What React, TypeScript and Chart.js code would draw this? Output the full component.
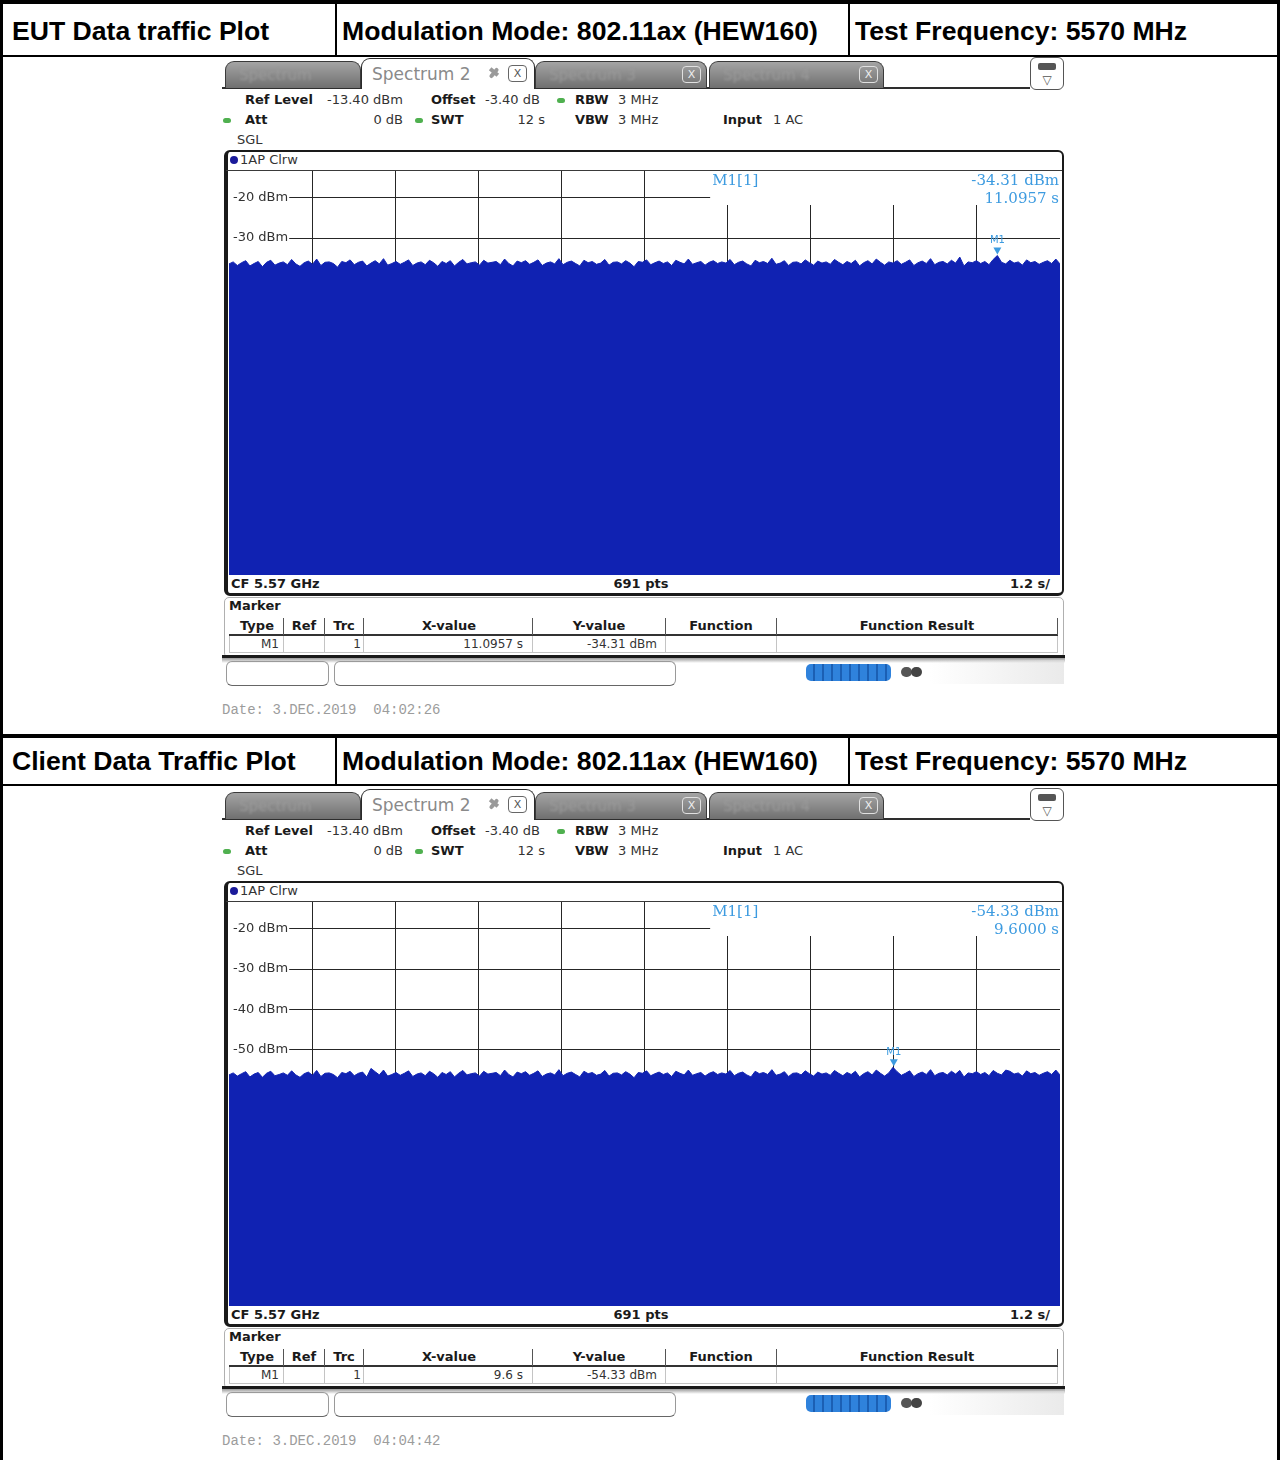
import React, { useEffect, useRef } from 'react';
import { Chart, registerables } from 'chart.js';

Chart.register(...registerables);

// ---------- data ----------
const SWEEP_TIME_S = 12;
const REF_LEVEL_DBM = -13.4;
const RANGE_DB = 100;
const X_GRID_S = [1.2, 2.4, 3.6, 4.8, 6.0, 7.2, 8.4, 9.6, 10.8];
const Y_GRID_DBM = [-20, -30, -40, -50, -60, -70, -80, -90, -100, -110];

const HEADER_EUT = ['EUT Data traffic Plot', 'Modulation Mode: 802.11ax (HEW160)', 'Test Frequency: 5570 MHz'];
const HEADER_CLIENT = ['Client Data Traffic Plot', 'Modulation Mode: 802.11ax (HEW160)', 'Test Frequency: 5570 MHz'];

const EUT_TRACE_DBM = [
  -36.4, -35.9, -36.8, -36.1, -35.6, -36.9, -36.3, -35.8, -37.1, -36.0, -35.5, -36.7, -36.2, -35.9, -36.6, -35.3, -36.4, -37.0, -36.1, -35.7,
  -36.5, -35.2, -36.8, -36.0, -35.9, -36.3, -37.2, -35.8, -36.1, -35.4, -36.6, -36.0, -35.7, -36.9, -36.2, -35.6, -36.4, -35.1, -36.7, -36.3,
  -35.8, -36.5, -36.0, -35.4, -36.8, -36.2, -35.9, -36.6, -35.5, -36.1, -37.0, -35.8, -36.3, -35.6, -36.9, -36.0, -35.3, -36.4, -36.1, -35.9,
  -36.7, -35.5, -36.2, -36.0, -35.8, -36.6, -35.2, -36.3, -36.9, -35.7, -36.1, -35.6, -36.5, -36.0, -35.4, -36.8, -36.2, -35.9, -36.4, -35.1,
  -36.6, -36.0, -35.7, -36.3, -36.9, -35.5, -36.1, -35.8, -36.5, -36.2, -35.3, -36.7, -36.0, -35.9, -36.4, -35.6, -36.2, -37.1, -35.8, -36.0,
  -35.4, -36.6, -36.1, -35.7, -36.3, -35.9, -36.8, -35.5, -36.0, -36.4, -35.2, -36.5, -36.1, -35.8, -36.7, -36.0, -35.6, -36.3, -35.9, -36.2,
  -35.3, -36.6, -36.0, -35.7, -36.4, -36.9, -35.5, -36.1, -35.8, -36.3, -35.0, -36.5, -36.2, -35.6, -36.8, -36.0, -35.9, -36.4, -35.4, -36.1,
  -36.7, -35.7, -36.2, -35.9, -36.5, -35.3, -36.0, -36.6, -35.8, -36.3, -35.5, -36.9, -36.1, -35.6, -36.4, -35.2, -36.0, -36.7, -35.9, -36.2,
  -35.6, -36.5, -36.0, -35.4, -36.8, -36.1, -35.7, -36.3, -35.1, -36.6, -36.0, -35.8, -36.4, -35.5, -36.2, -34.7, -36.9, -35.9, -36.1, -35.6,
  -36.3, -35.8, -36.6, -35.3, -34.31, -36.0, -36.4, -35.5, -36.2, -35.9, -36.7, -35.4, -36.1, -35.8, -36.5, -36.0, -35.6, -36.3, -35.2, -36.4,
];

const CLIENT_TRACE_DBM = [
  -56.2, -55.7, -56.5, -55.9, -55.4, -56.7, -56.0, -55.6, -56.8, -55.8, -55.3, -56.4, -56.1, -55.7, -56.3, -55.2, -56.2, -56.8, -55.9, -55.5,
  -56.3, -55.1, -56.6, -55.8, -55.7, -56.1, -56.9, -55.6, -55.9, -55.3, -56.4, -55.8, -55.5, -56.7, -54.6, -55.4, -56.2, -55.0, -56.5, -56.1,
  -55.6, -56.3, -55.8, -55.2, -56.6, -56.0, -55.7, -56.4, -55.3, -55.9, -56.8, -55.6, -56.1, -55.4, -56.7, -55.8, -55.1, -56.2, -55.9, -55.7,
  -56.5, -55.3, -56.0, -55.8, -55.6, -56.4, -55.0, -56.1, -56.7, -55.5, -55.9, -55.4, -56.3, -55.8, -55.2, -56.6, -56.0, -55.7, -56.2, -54.9,
  -56.4, -55.8, -55.5, -56.1, -56.7, -55.3, -55.9, -55.6, -56.3, -56.0, -55.1, -56.5, -55.8, -55.7, -56.2, -55.4, -56.0, -56.9, -55.6, -55.8,
  -55.2, -56.4, -55.9, -55.5, -56.1, -55.7, -56.6, -55.3, -55.8, -56.2, -55.0, -56.3, -55.9, -55.6, -56.5, -55.8, -55.4, -56.1, -55.7, -56.0,
  -55.1, -56.4, -55.8, -55.5, -56.2, -56.7, -55.3, -55.9, -55.6, -56.1, -54.9, -56.3, -56.0, -55.4, -56.6, -55.8, -55.7, -56.2, -55.2, -55.9,
  -56.5, -55.5, -56.0, -55.7, -56.3, -55.1, -55.8, -56.4, -55.6, -56.1, -55.3, -56.7, -55.9, -55.4, -56.2, -55.0, -55.8, -56.5, -55.7, -54.33,
  -55.4, -56.3, -55.8, -55.2, -56.6, -55.9, -55.5, -56.1, -54.9, -56.4, -55.8, -55.6, -56.2, -55.3, -56.0, -55.1, -56.7, -55.7, -55.9, -55.4,
  -56.1, -55.6, -56.4, -55.1, -55.8, -56.2, -55.0, -55.3, -56.0, -55.7, -56.5, -55.2, -55.9, -55.6, -56.3, -55.8, -55.4, -56.1, -55.0, -56.2,
];

const EUT_MARKER_X_S = 11.0957;
const EUT_MARKER_Y_DBM = -34.31;
const EUT_MARKER_TEXT = ['-34.31 dBm', '11.0957 s'];
const EUT_TABLE_X = '11.0957 s';
const EUT_TABLE_Y = '-34.31 dBm';
const EUT_DATE = 'Date: 3.DEC.2019  04:02:26';

const CLIENT_MARKER_X_S = 9.6;
const CLIENT_MARKER_Y_DBM = -54.33;
const CLIENT_MARKER_TEXT = ['-54.33 dBm', '9.6000 s'];
const CLIENT_TABLE_X = '9.6 s';
const CLIENT_TABLE_Y = '-54.33 dBm';
const CLIENT_DATE = 'Date: 3.DEC.2019  04:04:42';

// ---------- styles ----------
const TRACE_BLUE = '#1022b2';
const MARKER_BLUE = '#3d9be0';
const UI_FONT = '"DejaVu Sans", Verdana, sans-serif';

type TxtProps = {
  x: number; y: number; children: React.ReactNode; size?: number; bold?: boolean;
  color?: string; align?: 'left' | 'right' | 'center'; font?: string; style?: React.CSSProperties;
};

function Txt({ x, y, children, size = 13, bold = false, color = '#1a1a1a', align = 'left', font = UI_FONT, style }: TxtProps) {
  const h = Math.round(size * 1.4);
  const base: React.CSSProperties = {
    position: 'absolute', top: y - h / 2, height: h, lineHeight: h + 'px', fontSize: size,
    fontWeight: bold ? 'bold' : 'normal', color, fontFamily: font, whiteSpace: 'pre',
  };
  if (align === 'left') base.left = x;
  else if (align === 'right') base.right = 1280 - x;
  else { base.left = x - 300; base.width = 600; base.textAlign = 'center'; }
  return <div style={{ ...base, ...style }}>{children}</div>;
}

function Box({ x, y, w, h, style }: { x: number; y: number; w: number; h: number; style?: React.CSSProperties }) {
  return <div style={{ position: 'absolute', left: x, top: y, width: w, height: h, boxSizing: 'border-box', ...style }} />;
}

type PlotProps = {
  trace: number[]; markerX: number; markerY: number; markerText: string[];
  left: number; top: number; width: number; height: number;
};

const zeroFit = (s: any) => {
  s.paddingTop = 0; s.paddingBottom = 0; s.paddingLeft = 0; s.paddingRight = 0;
  if (s.isHorizontal()) s.height = 0; else s.width = 0;
};

function TracePlot({ trace, markerX, markerY, markerText, left, top, width, height }: PlotProps) {
  const ref = useRef<HTMLCanvasElement>(null);
  useEffect(() => {
    if (!ref.current) return;
    const n = trace.length;
    const pts = trace.map((y, i) => ({ x: (i * SWEEP_TIME_S) / (n - 1), y }));
    const markerPlugin = {
      id: 'rsMarker',
      afterDatasetsDraw(chart: any) {
        const { ctx, chartArea: a, scales } = chart;
        const xs = scales.x;
        const ys = scales.y;
        ctx.save();
        const bx = a.left + 0.579 * (a.right - a.left);
        ctx.fillStyle = '#ffffff';
        ctx.fillRect(bx, a.top, a.right - bx, 34);
        ctx.fillStyle = MARKER_BLUE;
        ctx.font = '15px "DejaVu Serif", serif';
        ctx.textBaseline = 'middle';
        ctx.textAlign = 'left';
        ctx.fillText('M1[1]', bx + 2, a.top + 10);
        ctx.textAlign = 'right';
        ctx.fillText(markerText[0], a.right - 1, a.top + 10);
        ctx.fillText(markerText[1], a.right - 1, a.top + 28);
        const mx = xs.getPixelForValue(markerX);
        const my = ys.getPixelForValue(markerY);
        ctx.beginPath();
        ctx.moveTo(mx - 4, my - 8);
        ctx.lineTo(mx + 4, my - 8);
        ctx.lineTo(mx, my - 1);
        ctx.closePath();
        ctx.fill();
        ctx.font = '10px "DejaVu Sans", sans-serif';
        ctx.textAlign = 'center';
        ctx.fillText('M1', mx, my - 15);
        ctx.restore();
      },
    };
    const chart = new Chart(ref.current, {
      type: 'line',
      data: {
        datasets: [{
          data: pts,
          borderColor: TRACE_BLUE,
          backgroundColor: TRACE_BLUE,
          borderWidth: 1,
          pointRadius: 0,
          fill: 'start',
          tension: 0,
        }],
      },
      options: {
        animation: false,
        responsive: false,
        maintainAspectRatio: false,
        events: [],
        layout: { padding: 0, autoPadding: false },
        plugins: { legend: { display: false }, tooltip: { enabled: false } },
        scales: {
          x: {
            type: 'linear', min: 0, max: SWEEP_TIME_S,
            afterBuildTicks: (s: any) => { s.ticks = X_GRID_S.map((v) => ({ value: v })); },
            afterFit: zeroFit,
            grid: { color: '#262626', lineWidth: 1, drawTicks: false },
            border: { display: false },
            ticks: { display: false, padding: 0 },
          },
          y: {
            type: 'linear', min: REF_LEVEL_DBM - RANGE_DB, max: REF_LEVEL_DBM,
            afterBuildTicks: (s: any) => { s.ticks = Y_GRID_DBM.map((v) => ({ value: v })); },
            afterFit: zeroFit,
            grid: { color: '#262626', lineWidth: 1, drawTicks: false },
            border: { display: false },
            ticks: {
              mirror: true, padding: 4, color: '#333333',
              font: { family: 'DejaVu Sans', size: 13 },
              callback: (v: any) => `${v} dBm`,
              showLabelBackdrop: true, backdropColor: '#ffffff',
              backdropPadding: { left: 5, right: 1, top: 0, bottom: 0 },
            },
          },
        },
      } as any,
      plugins: [markerPlugin],
    });
    return () => chart.destroy();
  }, []);
  return <canvas ref={ref} width={width} height={height} style={{ position: 'absolute', left, top, width, height }} />;
}

function CloseBox({ x, y, dark }: { x: number; y: number; dark?: boolean }) {
  return (
    <div style={{
      position: 'absolute', left: x, top: y, width: 19, height: 17, boxSizing: 'border-box',
      border: `1px solid ${dark ? '#666' : '#e0e0e0'}`, borderRadius: 4, fontSize: 11, lineHeight: '15px',
      textAlign: 'center', color: dark ? '#555' : '#eee', fontFamily: UI_FONT,
    }}>X</div>
  );
}

function GreyTab({ x, w, label, closeX }: { x: number; w: number; label: string; closeX: number }) {
  return (
    <>
      <div style={{
        position: 'absolute', left: x, top: 61, width: w, height: 27, boxSizing: 'border-box',
        background: 'linear-gradient(#a4a4a4, #707070)', border: '1px solid #3a3a3a', borderBottom: 'none',
        borderRadius: '9px 9px 0 0',
      }} />
      <Txt x={x + 14} y={75} size={15} color="#9a9a9a" style={{ filter: 'blur(1px)' }}>{label}</Txt>
      {closeX > 0 ? <CloseBox x={closeX} y={66} /> : null}
    </>
  );
}

function Analyzer({ oy, trace, markerX, markerY, markerText, tableX, tableY, date }: {
  oy: number; trace: number[]; markerX: number; markerY: number; markerText: string[]; tableX: string; tableY: string; date: string;
}) {
  const dot = (cx: number, cy: number) => (
    <div style={{ position: 'absolute', left: cx - 4, top: cy - 3, width: 8, height: 5, borderRadius: 3, background: '#4fb04f' }} />
  );
  const hdrSeps = [283, 324, 363, 532, 665, 776];
  const hdrCells: [string, number][] = [
    ['Type', 257], ['Ref', 304], ['Trc', 344], ['X-value', 449], ['Y-value', 599], ['Function', 721], ['Function Result', 917],
  ];
  return (
    <div style={{ position: 'absolute', left: 0, top: oy, width: 1280, height: 730 }}>
      {/* tabs */}
      <Box x={222} y={87} w={808} h={2} style={{ background: '#2e2e2e' }} />
      <GreyTab x={225} w={136} label="Spectrum" closeX={-100} />
      <GreyTab x={535} w={172} label="Spectrum 3" closeX={682} />
      <GreyTab x={709} w={175} label="Spectrum 4" closeX={859} />
      <div style={{
        position: 'absolute', left: 361, top: 58, width: 174, height: 31, boxSizing: 'border-box', background: '#fff',
        border: '1.5px solid #2a2a2a', borderBottom: 'none', borderRadius: '9px 9px 0 0',
      }} />
      <Txt x={372} y={74} size={17} color="#8a8a8a">Spectrum 2</Txt>
      <div style={{ position: 'absolute', left: 492, top: 67, width: 4, height: 12, background: '#9a9a9a', transform: 'rotate(40deg)', borderRadius: 2 }} />
      <div style={{ position: 'absolute', left: 489, top: 70, width: 10, height: 4, background: '#9a9a9a', transform: 'rotate(40deg)' }} />
      <CloseBox x={508} y={65} dark />
      <div style={{
        position: 'absolute', left: 1030, top: 57, width: 34, height: 33, boxSizing: 'border-box', background: '#fff',
        border: '1.5px solid #555', borderRadius: 6,
      }} />
      <Box x={1038} y={63} w={18} h={7} style={{ background: '#555', borderRadius: 2 }} />
      <Txt x={1047} y={80} size={12} align="center" color="#555">▽</Txt>

      {/* settings */}
      <Txt x={245} y={100} bold>Ref Level</Txt>
      <Txt x={327} y={100} color="#333">-13.40 dBm</Txt>
      <Txt x={431} y={100} bold>Offset</Txt>
      <Txt x={485} y={100} color="#333">-3.40 dB</Txt>
      {dot(561, 101)}
      <Txt x={575} y={100} bold>RBW</Txt>
      <Txt x={618} y={100} color="#333">3 MHz</Txt>
      {dot(227, 121)}
      <Txt x={245} y={120} bold>Att</Txt>
      <Txt x={403} y={120} align="right" color="#333">0 dB</Txt>
      {dot(419, 121)}
      <Txt x={431} y={120} bold>SWT</Txt>
      <Txt x={545} y={120} align="right" color="#333">12 s</Txt>
      <Txt x={575} y={120} bold>VBW</Txt>
      <Txt x={618} y={120} color="#333">3 MHz</Txt>
      <Txt x={723} y={120} bold>Input</Txt>
      <Txt x={773} y={120} color="#333">1 AC</Txt>
      <Txt x={237} y={140} color="#333">SGL</Txt>

      {/* diagram frame */}
      <Box x={224} y={150} w={840} h={446} style={{ border: '2px solid #1a1a1a', borderLeftWidth: 4, borderBottomWidth: 3, borderRadius: 6 }} />
      <div style={{ position: 'absolute', left: 230, top: 156, width: 8, height: 8, borderRadius: 4, background: '#1a1a9a' }} />
      <Txt x={240} y={160} color="#333">1AP Clrw</Txt>
      <Box x={226} y={170} w={836} h={1} style={{ background: '#3a3a3a' }} />
      <TracePlot trace={trace} markerX={markerX} markerY={markerY} markerText={markerText} left={229} top={171} width={831} height={404} />
      <Txt x={231} y={584} bold>CF 5.57 GHz</Txt>
      <Txt x={641} y={584} bold align="center">691 pts</Txt>
      <Txt x={1050} y={584} bold align="right">1.2 s/</Txt>

      {/* marker table */}
      <Box x={224} y={597} w={840} h={61} style={{ border: '1px solid #b0b0b0', borderRadius: 5 }} />
      <Txt x={229} y={606} bold>Marker</Txt>
      <Box x={229} y={634} w={829} h={2} style={{ background: '#333' }} />
      {hdrSeps.map((sx) => <Box key={'h' + sx} x={sx} y={618} w={1} h={17} style={{ background: '#555' }} />)}
      <Box x={1057} y={618} w={1} h={17} style={{ background: '#555' }} />
      {hdrCells.map(([t, cx]) => <Txt key={t} x={cx} y={626} bold align="center">{t}</Txt>)}
      <Box x={229} y={636} w={829} h={17} style={{ border: '1px solid #c4c4c4', borderTop: 'none' }} />
      {hdrSeps.map((sx) => <Box key={'d' + sx} x={sx} y={636} w={1} h={16} style={{ background: '#c4c4c4' }} />)}
      <Txt x={279} y={644} size={12} align="right" color="#333">M1</Txt>
      <Txt x={361} y={644} size={12} align="right" color="#333">1</Txt>
      <Txt x={523} y={644} size={12} align="right" color="#333">{tableX}</Txt>
      <Txt x={657} y={644} size={12} align="right" color="#333">{tableY}</Txt>
      <Box x={222} y={655} w={843} h={3} style={{ background: '#1a1a1a' }} />
      <Box x={222} y={658} w={843} h={5} style={{ background: 'linear-gradient(#9a9a9a, rgba(255,255,255,0))' }} />

      {/* status bar */}
      <Box x={226} y={661} w={103} h={25} style={{ border: '1px solid #9a9a9a', borderBottomColor: '#666', borderRadius: 6 }} />
      <Box x={334} y={661} w={342} h={25} style={{ border: '1px solid #9a9a9a', borderBottomColor: '#666', borderRadius: 6 }} />
      <Box x={806} y={664} w={85} h={17} style={{
        borderRadius: 5, background: 'repeating-linear-gradient(90deg, #2f82dc 0px, #2f82dc 7px, #1b5fb4 7px, #1b5fb4 9px)',
      }} />
      <div style={{ position: 'absolute', left: 901, top: 667, width: 11, height: 10, borderRadius: 5, background: '#555' }} />
      <div style={{ position: 'absolute', left: 911, top: 667, width: 11, height: 10, borderRadius: 5, background: '#444' }} />
      <Box x={930} y={660} w={134} h={24} style={{ background: 'linear-gradient(90deg, rgba(220,220,220,0), rgba(220,220,220,0.6))' }} />

      <Txt x={222} y={710} size={14} color="#9c9c9c" font={'"Liberation Mono", "DejaVu Sans Mono", monospace'}>{date}</Txt>
    </div>
  );
}

function HeaderRow({ y, cells }: { y: number; cells: string[] }) {
  const xs = [12, 342, 855];
  return (
    <>
      {cells.map((c, i) => (
        <Txt key={i} x={xs[i]} y={y} size={26.6} bold color="#000" font={'"Liberation Sans", Arial, sans-serif'}>{c}</Txt>
      ))}
    </>
  );
}

export default function App() {
  const line = (x: number, y: number, w: number, h: number) => <Box x={x} y={y} w={w} h={h} style={{ background: '#000' }} />;
  return (
    <div style={{ position: 'absolute', left: 0, top: 0, width: 1280, height: 1460, background: '#fff', overflow: 'hidden' }}>
      {line(0, 0, 1280, 4)}
      {line(0, 0, 3, 1460)}
      {line(1277, 0, 3, 1460)}
      {line(0, 55, 1280, 2)}
      {line(335, 0, 2, 57)}
      {line(848, 0, 2, 57)}
      {line(0, 734, 1280, 4)}
      {line(335, 734, 2, 52)}
      {line(848, 734, 2, 52)}
      {line(0, 784, 1280, 2)}
      <HeaderRow y={31} cells={HEADER_EUT} />
      <HeaderRow y={761} cells={HEADER_CLIENT} />
      <Analyzer oy={0} trace={EUT_TRACE_DBM} markerX={EUT_MARKER_X_S} markerY={EUT_MARKER_Y_DBM}
        markerText={EUT_MARKER_TEXT} tableX={EUT_TABLE_X} tableY={EUT_TABLE_Y} date={EUT_DATE} />
      <Analyzer oy={731} trace={CLIENT_TRACE_DBM} markerX={CLIENT_MARKER_X_S} markerY={CLIENT_MARKER_Y_DBM}
        markerText={CLIENT_MARKER_TEXT} tableX={CLIENT_TABLE_X} tableY={CLIENT_TABLE_Y} date={CLIENT_DATE} />
    </div>
  );
}
